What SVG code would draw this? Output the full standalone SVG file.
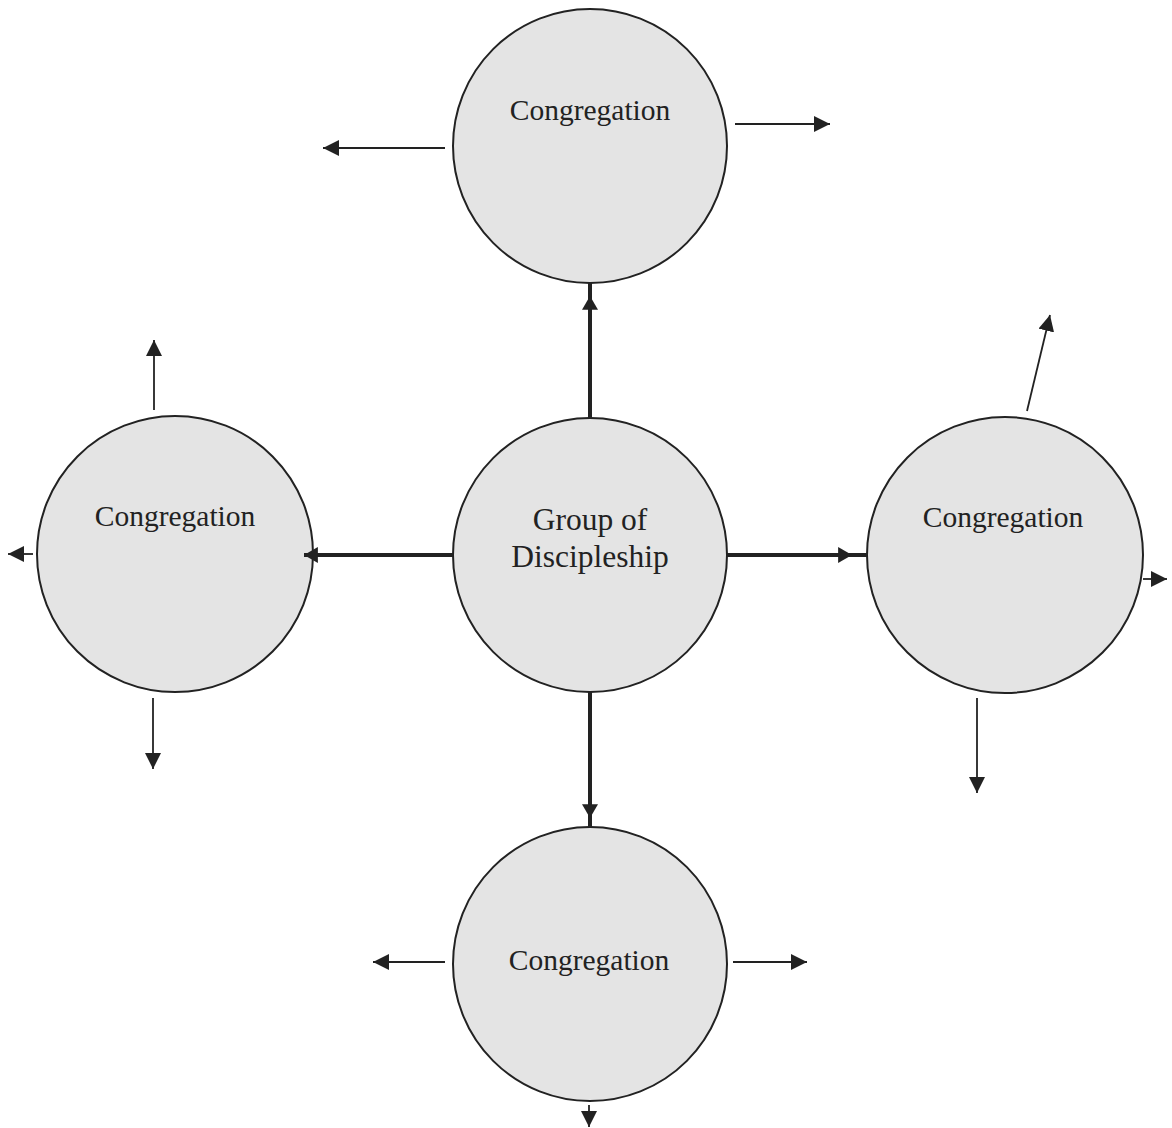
<svg xmlns="http://www.w3.org/2000/svg" width="1172" height="1128" viewBox="0 0 1172 1128">
  <style>
    .node circle { fill: #e4e4e4; stroke: #222; stroke-width: 2; }
    .label { font-family: "Liberation Serif", "Times New Roman", serif; fill: #222; text-anchor: middle; }
    .thin { stroke: #222; stroke-width: 1.8; fill: none; marker-end: url(#ah); }
    .thick { stroke: #222; stroke-width: 4; fill: none; }
  </style>
  <defs>
    <marker id="ah" markerUnits="userSpaceOnUse" markerWidth="16" markerHeight="16" refX="14" refY="7" orient="auto" viewBox="0 0 14 14">
      <path d="M0,0 L14,7 L0,14 z" fill="#222"/>
    </marker>
    <marker id="ahk" markerUnits="userSpaceOnUse" markerWidth="16" markerHeight="16" refX="13" refY="7.5" orient="auto" viewBox="0 0 14 15">
      <path d="M0,0 L13,7.5 L0,15 z" fill="#222"/>
    </marker>
  </defs>
  <rect width="1172" height="1128" fill="#ffffff"/>

  <g id="node-top" class="node">
    <circle cx="590" cy="146" r="137"/>
    <text class="label" x="590" y="120" font-size="29.5">Congregation</text>
  </g>
  <g id="node-center" class="node">
    <circle cx="590" cy="555" r="137"/>
    <text class="label" x="590" y="530" font-size="31.5">Group of</text>
    <text class="label" x="590" y="567" font-size="31.5">Discipleship</text>
  </g>
  <g id="node-left" class="node">
    <circle cx="175" cy="554" r="138"/>
    <text class="label" x="175" y="526" font-size="29.5">Congregation</text>
  </g>
  <g id="node-right" class="node">
    <circle cx="1005" cy="555" r="138"/>
    <text class="label" x="1003" y="527" font-size="29.5">Congregation</text>
  </g>
  <g id="node-bottom" class="node">
    <circle cx="590" cy="964" r="137"/>
    <text class="label" x="589" y="970" font-size="29.5">Congregation</text>
  </g>

  <g id="connectors">
    <!-- thick connectors from center -->
    <path class="thick" d="M590,418 L590,283"/>
    <path class="thick" d="M590,418 L590,296" marker-end="url(#ahk)"/>
    <path class="thick" d="M453,555 L304,555" marker-end="url(#ahk)"/>
    <path class="thick" d="M727,555 L867,555"/>
    <path class="thick" d="M727,555 L852,555" marker-end="url(#ahk)"/>
    <path class="thick" d="M590,692 L590,828"/>
    <path class="thick" d="M590,692 L590,818" marker-end="url(#ahk)"/>

    <!-- top circle outward -->
    <path class="thin" d="M445,148 L323,148"/>
    <path class="thin" d="M735,124 L830,124"/>
    <!-- left circle outward -->
    <path class="thin" d="M154,410 L154,340"/>
    <path class="thin" d="M153,698 L153,769"/>
    <path class="thin" d="M33,554 L8,554"/>
    <!-- right circle outward -->
    <path class="thin" d="M1027,411 L1050,315"/>
    <path class="thin" d="M977,698 L977,793"/>
    <path class="thin" d="M1143,579 L1167,579"/>
    <!-- bottom circle outward -->
    <path class="thin" d="M445,962 L373,962"/>
    <path class="thin" d="M733,962 L807,962"/>
    <path class="thin" d="M589,1105 L589,1127"/>
  </g>
</svg>
